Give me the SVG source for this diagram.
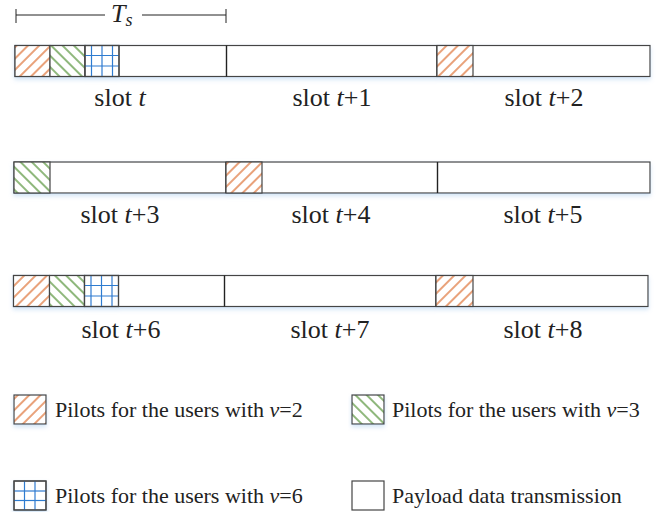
<svg xmlns="http://www.w3.org/2000/svg" width="662" height="512" viewBox="0 0 662 512">
<defs>
<style>
.box{fill:#fff;stroke:#454545;stroke-width:1.2}
.sep{stroke:#222;stroke-width:1.4}
.lbl{font-family:"Liberation Serif","Times New Roman",serif;font-size:26px;fill:#222;text-anchor:middle}
.leg{font-family:"Liberation Serif","Times New Roman",serif;font-size:22px;fill:#222}
.it{font-style:italic}
.or{fill:url(#phOr);stroke:#454545;stroke-width:1.2}
.gr{fill:url(#phGr);stroke:#454545;stroke-width:1.2}
.bl{fill:#fff;stroke:#454545;stroke-width:1.2}
.bline{stroke:#2f7bd0;stroke-width:1.2}
.ts{stroke:#222;stroke-width:1}
</style>
<pattern id="phOr" width="8" height="8" patternUnits="userSpaceOnUse" patternTransform="rotate(45)">
<rect width="8" height="8" fill="#fff"/>
<line x1="4" y1="0" x2="4" y2="8" stroke="#e07a42" stroke-width="1.4"/>
</pattern>
<pattern id="phGr" width="8" height="8" patternUnits="userSpaceOnUse" patternTransform="rotate(-45)">
<rect width="8" height="8" fill="#fff"/>
<line x1="4" y1="0" x2="4" y2="8" stroke="#5f9a45" stroke-width="1.4"/>
</pattern>
<symbol id="blueGrid" overflow="visible">
<rect class="bl" x="0" y="0" width="34" height="31"/>
<line class="bline" x1="6.5" y1="0" x2="6.5" y2="31"/>
<line class="bline" x1="17" y1="0" x2="17" y2="31"/>
<line class="bline" x1="27.5" y1="0" x2="27.5" y2="31"/>
<line class="bline" x1="0" y1="10" x2="34" y2="10"/>
<line class="bline" x1="0" y1="20.5" x2="34" y2="20.5"/>
<rect x="0" y="0" width="34" height="31" fill="none" stroke="#454545" stroke-width="1.2"/>
</symbol>
<filter id="sh" x="-10%" y="-20%" width="120%" height="160%">
<feDropShadow dx="0" dy="2.5" stdDeviation="2" flood-color="#9cc3ea" flood-opacity="0.45"/>
</filter>
</defs>
<rect width="662" height="512" fill="#fff"/>

<g id="ts-marker">
<line class="ts" x1="16" y1="15" x2="105" y2="15"/>
<line class="ts" x1="142" y1="15" x2="226" y2="15"/>
<line class="ts" x1="16" y1="9" x2="16" y2="23"/>
<line class="ts" x1="226" y1="9" x2="226" y2="23"/>
<text x="111" y="22" font-family="Liberation Serif,serif" font-size="26" font-style="italic" fill="#222">T<tspan font-size="18" dy="4">s</tspan></text>
</g>

<g id="row1" filter="url(#sh)">
<rect class="box" x="15" y="45.5" width="635" height="31"/>
<line class="sep" x1="226.5" y1="45.5" x2="226.5" y2="76.5"/>
<line class="sep" x1="437" y1="45.5" x2="437" y2="76.5"/>
<rect class="or" x="15" y="45.5" width="35" height="31"/>
<rect class="gr" x="50" y="45.5" width="35" height="31"/>
<use href="#blueGrid" x="85" y="45.5"/>
<rect class="or" x="437" y="45.5" width="36" height="31"/>
</g>
<g id="row1-labels">
<text class="lbl" x="120" y="106">slot <tspan class="it">t</tspan></text>
<text class="lbl" x="332" y="106">slot <tspan class="it">t</tspan>+1</text>
<text class="lbl" x="544" y="106">slot <tspan class="it">t</tspan>+2</text>
</g>

<g id="row2" filter="url(#sh)">
<rect class="box" x="14" y="162" width="636" height="31"/>
<line class="sep" x1="226" y1="162" x2="226" y2="193"/>
<line class="sep" x1="437.5" y1="162" x2="437.5" y2="193"/>
<rect class="gr" x="14" y="162" width="36" height="31"/>
<rect class="or" x="226" y="162" width="36" height="31"/>
</g>
<g id="row2-labels">
<text class="lbl" x="120" y="222.5">slot <tspan class="it">t</tspan>+3</text>
<text class="lbl" x="331" y="222.5">slot <tspan class="it">t</tspan>+4</text>
<text class="lbl" x="543" y="222.5">slot <tspan class="it">t</tspan>+5</text>
</g>

<g id="row3" filter="url(#sh)">
<rect class="box" x="13.5" y="275.5" width="634.5" height="31"/>
<line class="sep" x1="224.5" y1="275.5" x2="224.5" y2="306.5"/>
<line class="sep" x1="436" y1="275.5" x2="436" y2="306.5"/>
<rect class="or" x="13.5" y="275.5" width="36" height="31"/>
<rect class="gr" x="49.5" y="275.5" width="35" height="31"/>
<use href="#blueGrid" x="84.5" y="275.5"/>
<rect class="or" x="436" y="275.5" width="37" height="31"/>
</g>
<g id="row3-labels">
<text class="lbl" x="121" y="337.5">slot <tspan class="it">t</tspan>+6</text>
<text class="lbl" x="330" y="337.5">slot <tspan class="it">t</tspan>+7</text>
<text class="lbl" x="543" y="337.5">slot <tspan class="it">t</tspan>+8</text>
</g>

<g id="legend-v2">
<rect class="or" x="14" y="395" width="32" height="29" filter="url(#sh)"/>
<text class="leg" x="55" y="417">Pilots for the users with <tspan class="it">v</tspan>=2</text>
</g>
<g id="legend-v3">
<rect class="gr" x="352" y="395" width="32" height="29" filter="url(#sh)"/>
<text class="leg" x="392" y="417">Pilots for the users with <tspan class="it">v</tspan>=3</text>
</g>
<g id="legend-v6">
<g filter="url(#sh)">
<rect class="bl" x="14" y="481" width="32" height="29"/>
<line class="bline" x1="24.5" y1="481" x2="24.5" y2="510"/>
<line class="bline" x1="35" y1="481" x2="35" y2="510"/>
<line class="bline" x1="14" y1="491" x2="46" y2="491"/>
<line class="bline" x1="14" y1="500.5" x2="46" y2="500.5"/>
<rect x="14" y="481" width="32" height="29" fill="none" stroke="#454545" stroke-width="1.2"/>
</g>
<text class="leg" x="55" y="503">Pilots for the users with <tspan class="it">v</tspan>=6</text>
</g>
<g id="legend-payload">
<rect class="box" x="352" y="481" width="32" height="29"/>
<text class="leg" x="392" y="503">Payload data transmission</text>
</g>
</svg>
